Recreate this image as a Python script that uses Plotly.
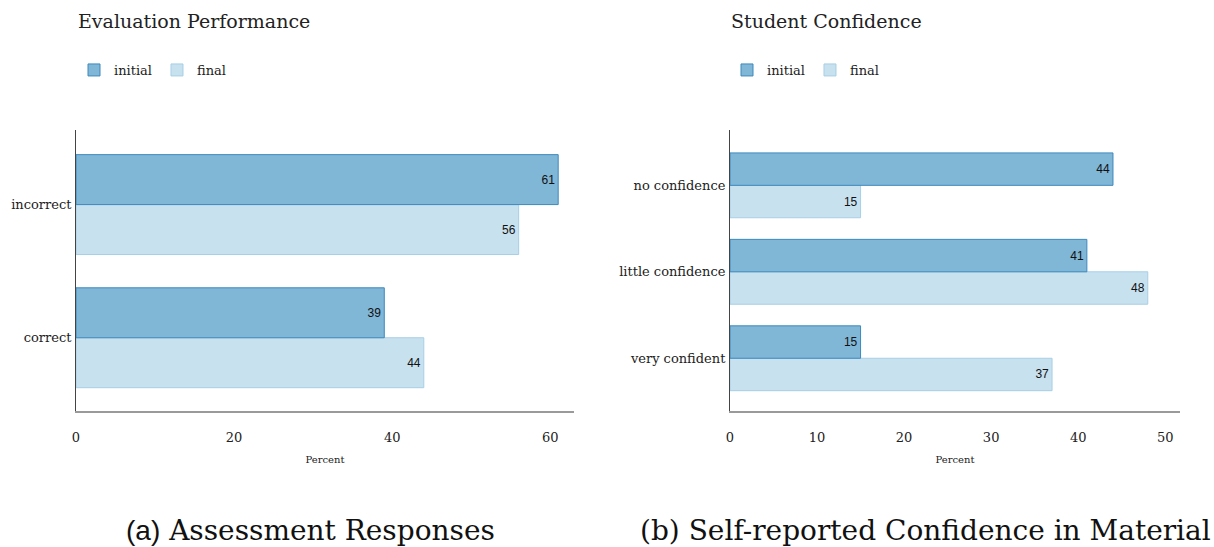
import plotly.graph_objects as go

# Panel (a): assessment responses
eval_categories = ["correct", "incorrect"]
eval_initial = [39, 61]
eval_final = [44, 56]

# Panel (b): self-reported confidence
conf_categories = ["very confident", "little confidence", "no confidence"]
conf_initial = [15, 41, 44]
conf_final = [37, 48, 15]

eval_ticks = [0, 20, 40, 60]
conf_ticks = [0, 10, 20, 30, 40, 50]

SERIF = "DejaVu Serif, Liberation Serif, serif"
SANS = "Liberation Sans, Arial, sans-serif"

INIT_FILL = "#80b6d6"
INIT_LINE = "#3d89bd"
FINAL_FILL = "#c8e1ef"
FINAL_LINE = "#a6cfe6"

fig = go.Figure()


def add_pair(cats, init, final, xa, ya, legend):
    # final is added first so that it sits below initial within each group
    fig.add_trace(go.Bar(
        y=cats, x=final, orientation="h", name="final",
        marker=dict(color=FINAL_FILL, line=dict(color=FINAL_LINE, width=1)),
        text=final, texttemplate="%{x}", textposition="inside",
        insidetextanchor="end", textfont=dict(family=SANS, size=12, color="#111"),
        xaxis=xa, yaxis=ya, legend=legend, legendrank=2,
    ))
    fig.add_trace(go.Bar(
        y=cats, x=init, orientation="h", name="initial",
        marker=dict(color=INIT_FILL, line=dict(color=INIT_LINE, width=1)),
        text=init, texttemplate="%{x}", textposition="inside",
        insidetextanchor="end", textfont=dict(family=SANS, size=12, color="#111"),
        xaxis=xa, yaxis=ya, legend=legend, legendrank=1,
    ))


add_pair(eval_categories, eval_initial, eval_final, "x", "y", "legend")
add_pair(conf_categories, conf_initial, conf_final, "x2", "y2", "legend2")

ydom = [1 - 411 / 547, 1 - 130 / 547]

xaxis_common = dict(
    showgrid=False, zeroline=False, showline=True, linecolor="#9a9a9a",
    linewidth=2, ticks="outside", ticklen=13, tickcolor="rgba(0,0,0,0)",
    tickfont=dict(family=SERIF, size=13, color="#222"), automargin=False,
    title=dict(text="Percent", font=dict(family=SERIF, size=10, color="#222"),
               standoff=12),
)
yaxis_common = dict(
    showgrid=False, zeroline=False, showline=True, linecolor="#444",
    linewidth=1, ticks="", tickfont=dict(family=SERIF, size=13, color="#222"),
    ticklabelstandoff=1, automargin=False,
)

legend_common = dict(
    orientation="h", font=dict(family=SERIF, size=13, color="#222"),
    bgcolor="rgba(0,0,0,0)", yanchor="middle", itemwidth=30,
    traceorder="normal",
)

fig.update_layout(
    width=1214, height=547,
    margin=dict(l=0, r=0, t=0, b=0, autoexpand=False),
    paper_bgcolor="white", plot_bgcolor="white",
    barmode="group", bargap=0.25,
    xaxis=dict(domain=[76 / 1214, 574 / 1214], range=[0, 63.0],
               tickvals=eval_ticks, anchor="y", **xaxis_common),
    yaxis=dict(domain=ydom, range=[-0.55, 1.56], anchor="x",
               categoryorder="array", categoryarray=eval_categories,
               **yaxis_common),
    xaxis2=dict(domain=[730 / 1214, 1180 / 1214], range=[0, 51.7],
                tickvals=conf_ticks, anchor="y2", **xaxis_common),
    yaxis2=dict(domain=ydom, range=[-0.61, 2.64], anchor="x2",
                categoryorder="array", categoryarray=conf_categories,
                **yaxis_common),
    legend=dict(x=74 / 1214, y=1 - 70 / 547, xanchor="left", **legend_common),
    legend2=dict(x=727 / 1214, y=1 - 70 / 547, xanchor="left", **legend_common),
    showlegend=True,
)

annotations = [
    dict(text="Evaluation Performance", x=76 / 1214, y=1 - 21 / 547,
         xanchor="left", yanchor="middle",
         font=dict(family=SERIF, size=19, color="#222")),
    dict(text="Student Confidence", x=729 / 1214, y=1 - 21 / 547,
         xanchor="left", yanchor="middle",
         font=dict(family=SERIF, size=19, color="#222")),
    dict(text="<span style='font-family:" + SANS + "'>(a)</span> Assessment Responses",
         x=310 / 1214, y=1 - 530 / 547, xanchor="center", yanchor="middle",
         font=dict(family=SERIF, size=28, color="#111")),
    dict(text="(b) Self-reported Confidence in Material",
         x=926 / 1214, y=1 - 530 / 547, xanchor="center", yanchor="middle",
         font=dict(family=SERIF, size=28, color="#111")),
]
for a in annotations:
    a.update(xref="paper", yref="paper", showarrow=False)
fig.update_layout(annotations=annotations)

fig.write_html("out.html")
